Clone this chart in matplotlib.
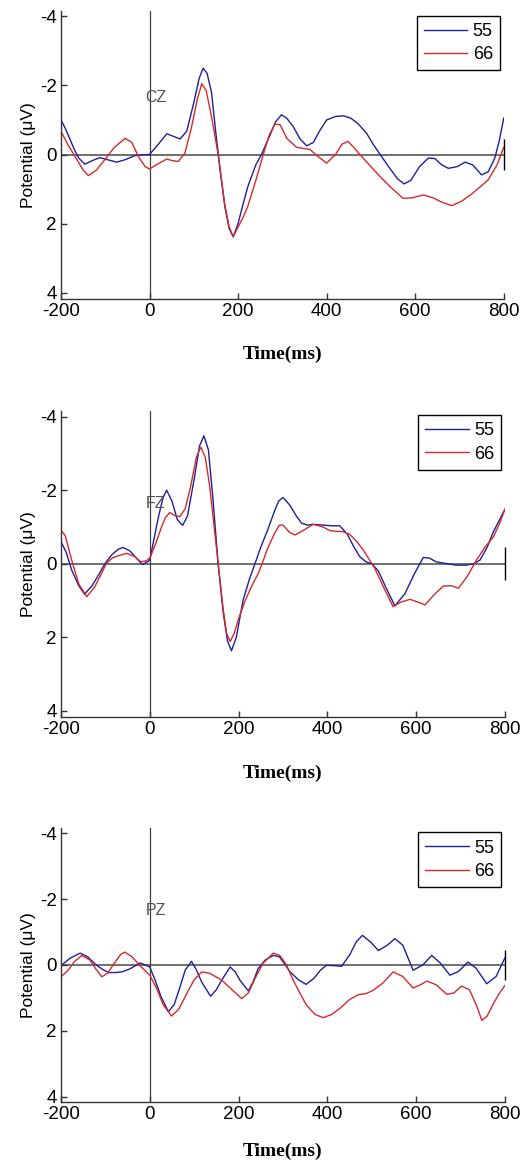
import matplotlib
matplotlib.use("Agg")
import matplotlib.pyplot as plt

plt.rcParams["font.family"] = ["Liberation Sans", "DejaVu Sans"]
plt.rcParams["axes.unicode_minus"] = False

# ---- data ----
x_ticks = [-200, 0, 200, 400, 600, 800]
y_ticks = [-4, -2, 0, 2, 4]
series_labels = ["55", "66"]
channels = ["CZ", "FZ", "PZ"]

cz_t55 = [-200, -190, -180, -170, -160, -146, -130, -112, -95, -74, -55, -33, -15, 0, 20,
          39, 55, 69, 84, 100, 112, 121, 130, 140, 150, 160, 170, 180, 189, 200, 210, 222,
          240, 253, 270, 285, 298, 310, 325, 340, 355, 370, 385, 400, 420, 438, 455, 472,
          490, 505, 521, 540, 560, 575, 590, 610, 630, 645, 660, 675, 695, 713, 730, 750,
          765, 780, 790, 800]
cz_v55 = [-1.0, -0.75, -0.45, -0.15, 0.1, 0.28, 0.18, 0.09, 0.15, 0.22, 0.15, 0.03, 0.01,
          0.0, -0.3, -0.6, -0.52, -0.45, -0.67, -1.5, -2.2, -2.5, -2.35, -1.8, -0.6, 0.5,
          1.5, 2.15, 2.38, 2.0, 1.5, 0.93, 0.3, 0.0, -0.5, -0.95, -1.15, -1.05, -0.8, -0.45,
          -0.25, -0.35, -0.7, -1.0, -1.1, -1.12, -1.05, -0.88, -0.62, -0.3, 0.0, 0.35, 0.7,
          0.85, 0.75, 0.35, 0.1, 0.12, 0.3, 0.4, 0.35, 0.22, 0.3, 0.59, 0.5, 0.1, -0.4, -1.05]
cz_t66 = [-200, -185, -168, -150, -138, -120, -101, -80, -55, -40, -25, -10, 0, 15, 39, 52,
          65, 80, 95, 108, 118, 128, 140, 155, 170, 180, 189, 200, 212, 222, 240, 257, 270,
          283, 295, 310, 332, 350, 362, 380, 400, 420, 435, 448, 462, 475, 500, 521, 545,
          573, 595, 618, 640, 660, 683, 705, 730, 750, 765, 785, 800]
cz_v66 = [-0.67, -0.3, 0.06, 0.45, 0.61, 0.45, 0.15, -0.2, -0.47, -0.35, 0.06, 0.35, 0.42,
          0.3, 0.13, 0.18, 0.2, -0.04, -0.8, -1.6, -2.05, -1.85, -1.1, 0.0, 1.45, 2.1, 2.38,
          2.1, 1.8, 1.5, 0.75, 0.0, -0.55, -0.88, -0.86, -0.47, -0.21, -0.17, -0.15, 0.05,
          0.25, 0.0, -0.3, -0.38, -0.2, 0.0, 0.35, 0.64, 0.95, 1.27, 1.25, 1.17, 1.25, 1.38,
          1.48, 1.35, 1.12, 0.9, 0.73, 0.3, -0.21]

fz_t55 = [-200, -188, -176, -160, -147, -130, -115, -101, -85, -70, -60, -45, -30, -17, -5,
          0, 10, 20, 30, 38, 50, 62, 74, 85, 100, 112, 122, 132, 142, 154, 165, 175, 184,
          195, 210, 225, 237, 250, 265, 280, 290, 300, 315, 330, 342, 355, 368, 390, 410,
          428, 445, 460, 473, 487, 500, 515, 530, 552, 575, 595, 616, 630, 645, 669, 690,
          714, 730, 744, 760, 774, 788, 800]
fz_v55 = [-0.6, -0.3, 0.17, 0.6, 0.83, 0.6, 0.3, 0.0, -0.25, -0.4, -0.44, -0.35, -0.15,
          0.02, -0.05, -0.1, -0.7, -1.3, -1.8, -2.0, -1.7, -1.2, -1.04, -1.3, -2.3, -3.2,
          -3.48, -3.1, -1.8, 0.0, 1.3, 2.1, 2.37, 2.0, 1.0, 0.4, 0.0, -0.45, -0.9, -1.4,
          -1.7, -1.8, -1.6, -1.3, -1.1, -1.05, -1.07, -1.05, -1.03, -1.03, -0.8, -0.45,
          -0.19, -0.05, 0.0, 0.2, 0.6, 1.15, 0.81, 0.3, -0.17, -0.15, -0.05, 0.0, 0.04,
          0.04, 0.0, -0.1, -0.45, -0.87, -1.2, -1.48]
fz_t66 = [-200, -190, -176, -160, -142, -125, -110, -98, -85, -70, -52, -35, -20, -8, 0,
          12, 25, 35, 45, 58, 68, 80, 92, 105, 115, 125, 135, 145, 155, 165, 173, 181, 190,
          200, 215, 230, 245, 253, 265, 280, 292, 300, 315, 327, 345, 368, 390, 406, 420,
          436, 450, 465, 481, 495, 507, 525, 548, 565, 586, 605, 620, 640, 661, 680, 695,
          715, 736, 755, 774, 788, 800]
fz_v66 = [-0.92, -0.75, -0.1, 0.55, 0.9, 0.65, 0.3, 0.0, -0.15, -0.22, -0.28, -0.2, -0.05,
          -0.08, -0.15, -0.5, -0.95, -1.25, -1.39, -1.3, -1.28, -1.5, -2.1, -2.9, -3.17,
          -2.9, -2.1, -1.0, 0.1, 1.2, 1.9, 2.12, 1.9, 1.5, 1.0, 0.6, 0.25, 0.0, -0.4, -0.8,
          -1.05, -1.05, -0.85, -0.78, -0.9, -1.07, -1.0, -0.9, -0.88, -0.87, -0.8, -0.62,
          -0.37, -0.1, 0.13, 0.6, 1.17, 1.05, 0.97, 1.05, 1.12, 0.85, 0.61, 0.6, 0.67, 0.35,
          -0.1, -0.45, -0.73, -1.1, -1.48]

pz_t55 = [-200, -180, -157, -140, -123, -108, -93, -78, -63, -45, -22, -10, 0, 12, 25, 42,
          55, 68, 80, 94, 105, 117, 137, 150, 162, 181, 192, 203, 222, 233, 244, 260, 278,
          292, 304, 316, 335, 352, 370, 385, 398, 415, 432, 450, 465, 479, 497, 515, 535,
          552, 570, 593, 615, 635, 655, 676, 695, 717, 735, 759, 780, 800]
pz_v55 = [0.02, -0.2, -0.36, -0.25, -0.03, 0.12, 0.23, 0.23, 0.21, 0.12, -0.06, 0.0, 0.06,
          0.46, 0.95, 1.42, 1.2, 0.67, 0.15, -0.11, 0.15, 0.52, 0.95, 0.75, 0.46, 0.06, 0.2,
          0.46, 0.79, 0.5, 0.11, -0.15, -0.29, -0.25, -0.03, 0.21, 0.45, 0.59, 0.4, 0.15,
          0.01, 0.02, 0.04, -0.3, -0.7, -0.9, -0.7, -0.44, -0.6, -0.8, -0.6, 0.16, 0.0,
          -0.29, -0.05, 0.31, 0.2, -0.09, 0.1, 0.57, 0.35, -0.22]
pz_t66 = [-200, -184, -170, -153, -135, -120, -108, -95, -80, -65, -56, -40, -20, 0, 15,
          30, 49, 65, 87, 100, 117, 135, 162, 185, 207, 222, 237, 255, 278, 293, 308, 323,
          338, 353, 372, 391, 410, 428, 450, 470, 487, 503, 525, 548, 570, 593, 610, 624,
          645, 669, 685, 702, 720, 735, 748, 760, 774, 788, 800]
pz_v66 = [0.36, 0.16, -0.1, -0.29, -0.15, 0.15, 0.36, 0.25, -0.05, -0.33, -0.39, -0.25,
          0.05, 0.31, 0.7, 1.2, 1.55, 1.35, 0.77, 0.45, 0.21, 0.25, 0.46, 0.75, 1.02, 0.85,
          0.41, -0.05, -0.36, -0.29, 0.0, 0.46, 0.85, 1.22, 1.5, 1.6, 1.5, 1.32, 1.05, 0.9,
          0.87, 0.77, 0.55, 0.21, 0.35, 0.7, 0.6, 0.49, 0.6, 0.89, 0.85, 0.64, 0.75, 1.2,
          1.68, 1.55, 1.17, 0.85, 0.62]

panel_data = [
    ((cz_t55, cz_v55), (cz_t66, cz_v66)),
    ((fz_t55, fz_v55), (fz_t66, fz_v66)),
    ((pz_t55, pz_v55), (pz_t66, pz_v66)),
]

# axes rectangles (figure fractions), y limits and x-label gap per panel
rects = [
    [0.1166, 0.7431, 0.8465, 0.2472],
    [0.1166, 0.3843, 0.8489, 0.2632],
    [0.1166, 0.0538, 0.8489, 0.2352],
]
ylims = [(4.19, -4.145), (4.18, -4.163), (4.17, -4.15)]
xlabel_pads = [18, 19, 14]

BLUE = "#1f1f9c"
RED = "#d42a2a"


def draw_panel(ax, data, channel, ylim, xpad):
    (t55, v55), (t66, v66) = data
    ax.axhline(0, color="#707070", lw=1.4, zorder=1)
    ax.axvline(0, color="#404040", lw=0.9, zorder=1)
    ax.vlines(x_ticks[-1], -0.45, 0.45, color="black", lw=1.0, zorder=3, clip_on=False)
    ax.plot(t55, v55, color=BLUE, lw=1.0, label=series_labels[0], zorder=2)
    ax.plot(t66, v66, color=RED, lw=1.0, label=series_labels[1], zorder=2)
    ax.text(-10, -1.65, channel, fontsize=11.5, color="#505050", va="center", ha="left")

    ax.set_xlim(x_ticks[0], x_ticks[-1])
    ax.set_ylim(*ylim)
    ax.set_xticks(x_ticks)
    ax.set_yticks(y_ticks)
    ax.tick_params(direction="in", length=4, width=1, labelsize=13.5, pad=3, color="#333333")
    for side in ("top", "right"):
        ax.spines[side].set_visible(False)
    for side in ("left", "bottom"):
        ax.spines[side].set_color("#333333")
        ax.spines[side].set_linewidth(1.0)

    ax.set_ylabel("Potential (\u03bcV)", fontsize=12.5, labelpad=3)
    ax.set_xlabel("Time(ms)", fontsize=14, fontweight="bold",
                  family=["Liberation Serif", "DejaVu Serif"], labelpad=xpad)

    leg = ax.legend(loc="upper right", bbox_to_anchor=(0.992, 0.985), fontsize=13,
                    frameon=True, fancybox=False, framealpha=1, edgecolor="black",
                    handlelength=2.4, handletextpad=0.3, borderpad=0.4,
                    labelspacing=0.35, borderaxespad=0.0)
    leg.get_frame().set_linewidth(1.0)


fig = plt.figure(figsize=(5.23, 11.65), dpi=100)
for rect, data, channel, ylim, xpad in zip(rects, panel_data, channels, ylims, xlabel_pads):
    ax = fig.add_axes(rect)
    draw_panel(ax, data, channel, ylim, xpad)

fig.savefig("out.png", dpi=100)
